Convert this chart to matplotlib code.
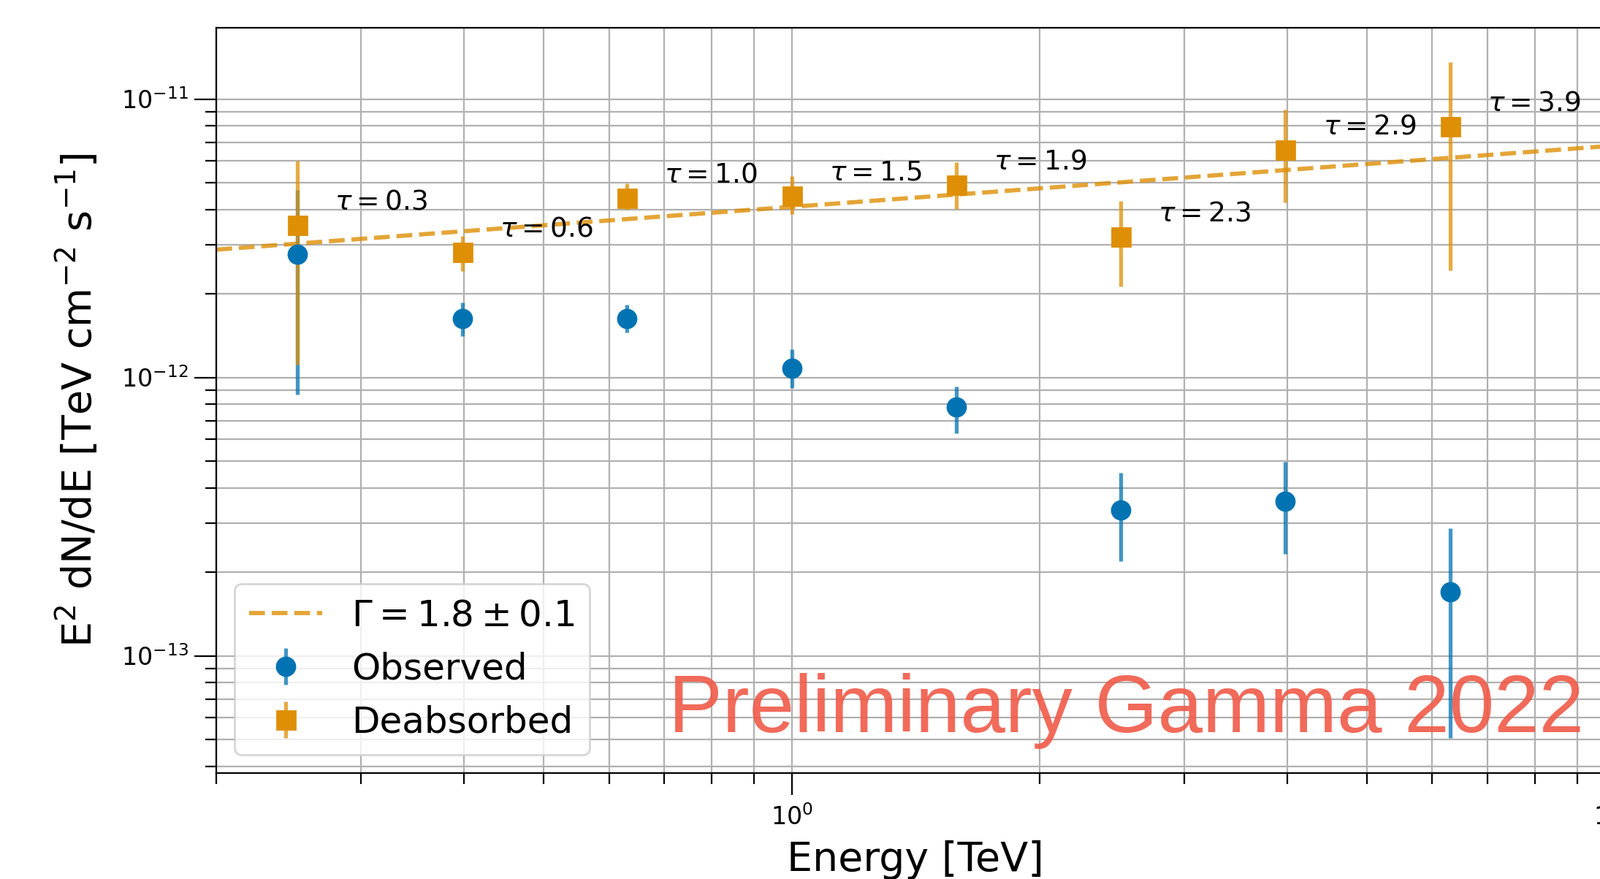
import numpy as np
import matplotlib
matplotlib.use('Agg')
import matplotlib.pyplot as plt
from matplotlib.ticker import NullFormatter

# energy bins [TeV]
energy = [0.251, 0.398, 0.631, 1.0, 1.585, 2.512, 3.981, 6.31]

# observed E^2 dN/dE [TeV cm^-2 s^-1] with upper / lower error bar ends
obs_flux = [2.77e-12, 1.63e-12, 1.63e-12, 1.08e-12, 7.83e-13, 3.34e-13, 3.60e-13, 1.70e-13]
obs_up = [4.71e-12, 1.86e-12, 1.83e-12, 1.26e-12, 9.27e-13, 4.54e-13, 4.99e-13, 2.88e-13]
obs_lo = [8.67e-13, 1.41e-12, 1.45e-12, 9.17e-13, 6.30e-13, 2.19e-13, 2.32e-13, 5.08e-14]

# deabsorbed points
deabs_flux = [3.52e-12, 2.82e-12, 4.42e-12, 4.49e-12, 4.91e-12, 3.21e-12, 6.58e-12, 7.97e-12]
deabs_up = [6.0e-12, 3.23e-12, 4.99e-12, 5.28e-12, 5.93e-12, 4.30e-12, 9.14e-12, 1.36e-11]
deabs_lo = [1.11e-12, 2.41e-12, 4.0e-12, 3.86e-12, 4.03e-12, 2.12e-12, 4.25e-12, 2.42e-12]

# optical depth per bin
tau = ['0.3', '0.6', '1.0', '1.5', '1.9', '2.3', '2.9', '3.9']

# power law fit: E^2 dN/dE = norm * E^(2 - index)
fit_norm = 4.1e-12
fit_index = 1.78

blue = '#0173b2'
orange = '#de8f05'

fig = plt.figure(figsize=(10.95, 6.015), dpi=200)
ax = fig.add_axes([0.1352, 0.1208, 0.874, 0.8474])

e = np.array(energy)
f_obs = np.array(obs_flux)
f_dea = np.array(deabs_flux)
err_obs = [f_obs - np.array(obs_lo), np.array(obs_up) - f_obs]
err_dea = [f_dea - np.array(deabs_lo), np.array(deabs_up) - f_dea]

e_fit = np.logspace(np.log10(0.2), 1, 100)
fit_line, = ax.plot(e_fit, fit_norm * e_fit ** (2 - fit_index), ls='--', lw=2.1,
                    color=orange, alpha=0.8, label=r'$\Gamma = 1.8 \pm 0.1$')

obs = ax.errorbar(e, f_obs, yerr=err_obs, fmt='o', ms=9, color=blue,
                  ecolor=blue, elinewidth=1.9, capsize=0, label='Observed')
obs[2][0].set_alpha(0.75)
dea = ax.errorbar(e, f_dea, yerr=err_dea, fmt='s', ms=9, color=orange,
                  ecolor=orange, elinewidth=1.9, capsize=0, label='Deabsorbed')
dea[2][0].set_alpha(0.75)

for x, y, t in zip(energy, deabs_flux, tau):
    ax.text(x * 1.11, y * 1.21, rf'$\tau = {t}$', fontsize=13.5,
            ha='left', va='center')

ax.set_xscale('log')
ax.set_yscale('log')
ax.set_xlim(0.2, 10)
ax.set_ylim(3.8e-14, 1.8e-11)
ax.xaxis.set_minor_formatter(NullFormatter())
ax.yaxis.set_minor_formatter(NullFormatter())

ax.grid(True, which='both', color='#b0b0b0', lw=0.8)
ax.set_axisbelow(True)
ax.tick_params(which='major', length=10.8, width=0.8, labelsize=12)
ax.tick_params(which='minor', length=5.3, width=0.8)
ax.tick_params(axis='x', pad=5)
ax.tick_params(axis='y', pad=3)
for s in ax.spines.values():
    s.set_linewidth(0.8)

ax.set_xlabel('Energy [TeV]', fontsize=20, labelpad=5)
ax.set_ylabel(r'E$^2$ dN/dE [TeV cm$^{-2}$ s$^{-1}$]', fontsize=20, labelpad=10)

ax.legend(handles=[fit_line, obs, dea], loc='lower left', fontsize=18)

fig.text(0.418, 0.1674, 'Preliminary Gamma 2022', family='Liberation Sans',
         fontsize=39.8, color='#f05a48', alpha=0.9, va='baseline')

fig.savefig('out.png', dpi=200)
